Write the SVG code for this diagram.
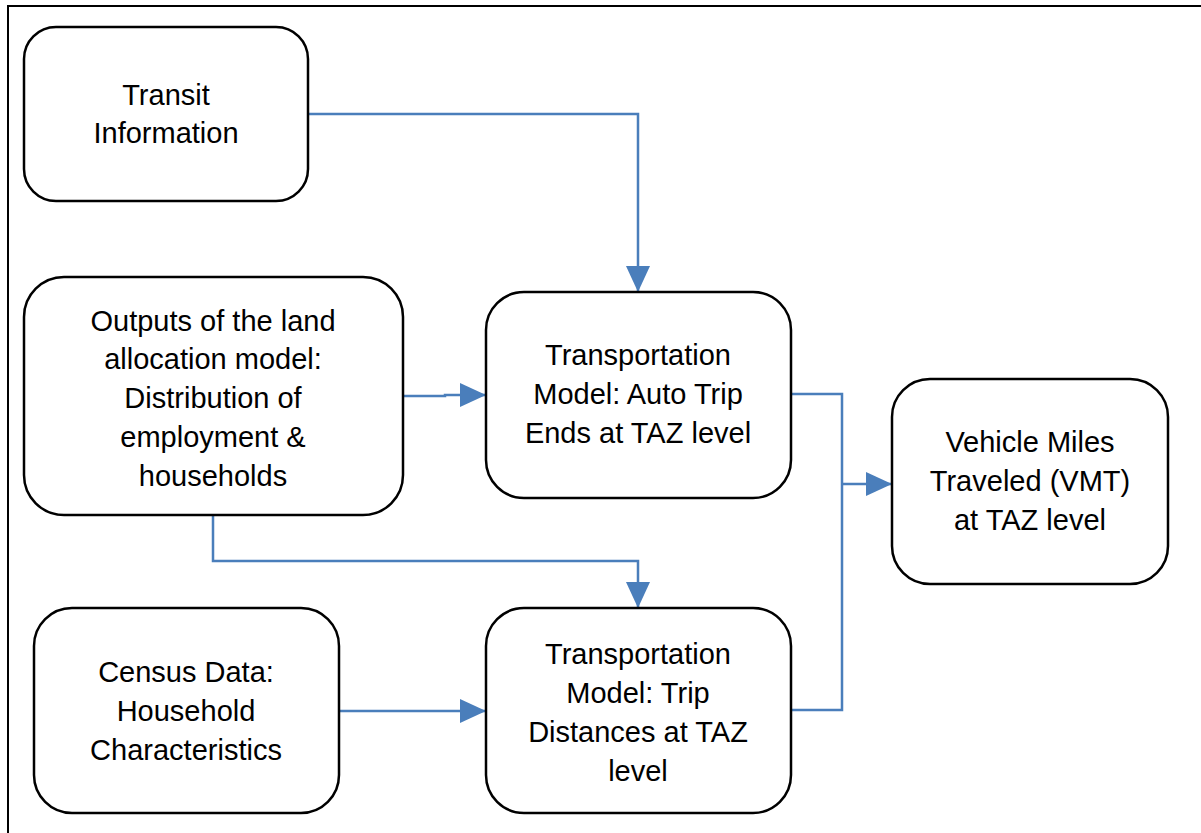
<svg xmlns="http://www.w3.org/2000/svg" width="1201" height="833" viewBox="0 0 1201 833">
<style>
.box{fill:#fff;stroke:#000;stroke-width:2.5}
.t{font-family:"Liberation Sans",Arial,sans-serif;font-size:29px;fill:#000;text-anchor:middle}
.c{fill:none;stroke:#4a7ebb;stroke-width:2.5}
</style>
<defs>
<marker id="a" viewBox="0 0 26 24" refX="26" refY="12" markerWidth="26" markerHeight="24" markerUnits="userSpaceOnUse" orient="auto">
<path d="M0,0 L26,12 L0,24 z" fill="#4a7ebb"/>
</marker>
</defs>
<rect width="1201" height="833" fill="#fff"/>
<path d="M8,833 L8,6 L1201,6" fill="none" stroke="#000" stroke-width="2"/>
<g id="connectors">
<path class="c" d="M308,114 H638 V292" marker-end="url(#a)"/>
<path class="c" d="M403,396 H445 V395 H486" marker-end="url(#a)"/>
<path class="c" d="M213,515 V561 H638 V608" marker-end="url(#a)"/>
<path class="c" d="M339,711 H486" marker-end="url(#a)"/>
<path class="c" d="M791,394 H842 V710 H791"/>
<path class="c" d="M842,484 H892" marker-end="url(#a)"/>
</g>
<g id="transit">
<rect class="box" x="24" y="27" width="284" height="174" rx="32"/>
<text class="t" x="166" y="105">Transit</text>
<text class="t" x="166" y="143">Information</text>
</g>
<g id="outputs">
<rect class="box" x="24" y="277" width="379" height="238" rx="40"/>
<text class="t" x="213" y="331">Outputs of the land</text>
<text class="t" x="213" y="369">allocation model:</text>
<text class="t" x="213" y="408">Distribution of</text>
<text class="t" x="213" y="447">employment &amp;</text>
<text class="t" x="213" y="486">households</text>
</g>
<g id="auto">
<rect class="box" x="486" y="292" width="305" height="206" rx="38"/>
<text class="t" x="638" y="365">Transportation</text>
<text class="t" x="638" y="404">Model: Auto Trip</text>
<text class="t" x="638" y="443">Ends at TAZ level</text>
</g>
<g id="vmt">
<rect class="box" x="892" y="379" width="276" height="205" rx="38"/>
<text class="t" x="1030" y="452">Vehicle Miles</text>
<text class="t" x="1030" y="491">Traveled (VMT)</text>
<text class="t" x="1030" y="530">at TAZ level</text>
</g>
<g id="census">
<rect class="box" x="34" y="608" width="305" height="205" rx="38"/>
<text class="t" x="186" y="682">Census Data:</text>
<text class="t" x="186" y="721">Household</text>
<text class="t" x="186" y="760">Characteristics</text>
</g>
<g id="tripdist">
<rect class="box" x="486" y="608" width="305" height="205" rx="38"/>
<text class="t" x="638" y="664">Transportation</text>
<text class="t" x="638" y="703">Model: Trip</text>
<text class="t" x="638" y="742">Distances at TAZ</text>
<text class="t" x="638" y="781">level</text>
</g>
</svg>
